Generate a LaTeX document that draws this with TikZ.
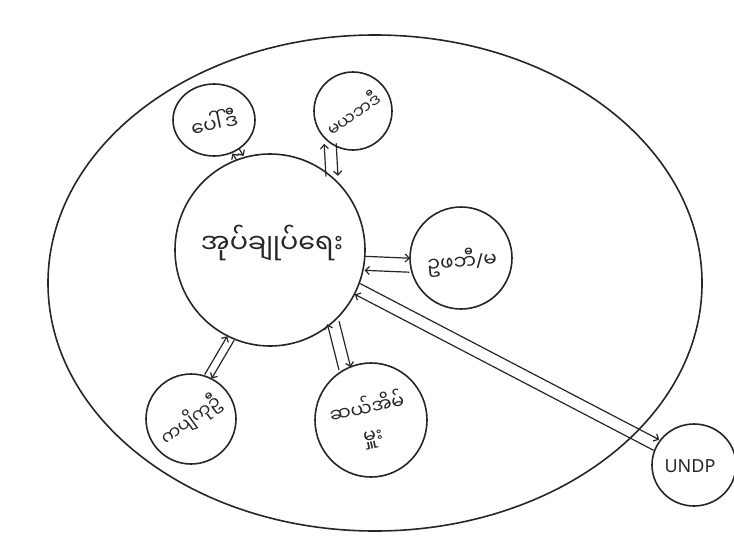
\documentclass[tikz,border=0pt]{standalone}
\usepackage{fontspec}
\setmainfont{Noto Sans}
\newfontfamily\mya[Script=Myanmar]{Noto Sans Myanmar UI}
\usetikzlibrary{arrows.meta,calc,shapes.geometric}
\newcommand\twoway[3]{%
  \path (#1) -- (#2) coordinate[pos=0] (tws) coordinate[pos=1] (twe);
  \draw[tip] ($(tws)!#3!90:(twe)$) -- ($(twe)!#3!-90:(tws)$);
  \draw[tip] ($(twe)!#3!90:(tws)$) -- ($(tws)!#3!-90:(twe)$);
}
\begin{document}
\begin{tikzpicture}[x=1pt,y=-1pt,
  ink/.style={draw=black!85,line width=1.6pt},
  bub/.style={ink,ellipse,inner sep=0pt},
  lbl/.style={font=\mya\fontsize{20}{22}\selectfont,text=black!85,align=center,inner sep=1pt},
  tip/.style={ink,line width=1.2pt,-{Straight Barb[length=4pt,width=8pt]}}]
\useasboundingbox (0,0) rectangle (734,538);
\fill[white] (0,0) rectangle (734,538);
% circles
\node[bub,minimum width=654pt,minimum height=496pt] (outer) at (375,283) {};
\node[bub,minimum width=190pt,minimum height=192pt] (core) at (270,250) {};
\node[bub,minimum width=82pt,minimum height=72pt] (tl) at (214,120) {};
\node[bub,minimum width=78pt,minimum height=78pt] (tr) at (353,111) {};
\node[bub,minimum width=102pt,minimum height=102pt] (rt) at (461,258) {};
\node[bub,minimum width=90pt,minimum height=90pt] (bl) at (191,419) {};
\node[bub,minimum width=112pt,minimum height=114pt] (bot) at (371,420) {};
\node[bub,minimum width=84pt,minimum height=82pt] (undp) at (694,465) {};
% labels
\node[lbl,font=\mya\fontsize{27}{30}\selectfont] (coret) at (272,243) {အုပ်ချုပ်ရေး};
\node[lbl,rotate=12] (tlt) at (214,122) {ပေါ်ဒီ};
\node[lbl,rotate=35,font=\mya\fontsize{17}{20}\selectfont] (trt) at (353,113) {မယဘဒီ};
\node[lbl,rotate=5] (rtt) at (462,262) {ဥဖဘီ{\rmfamily/}မ};
\node[lbl,rotate=36,font=\mya\fontsize{18}{20}\selectfont] (blt) at (191,420) {ကပျိကုဦ};
\node[lbl,rotate=12,font=\mya\fontsize{19}{28}\selectfont] (bott) at (370,422) {ဆယ်အိမ်\\မှူး};
\node[lbl,font=\fontsize{18}{20}\selectfont] (undpt) at (690,466) {UNDP};
% connectors
\twoway{tl.-55}{core.108}{4pt}
\twoway{tr.-125}{core.50}{6pt}
\twoway{core.-8}{rt.188}{7pt}
\twoway{core.-24}{undp.152}{6pt}
\twoway{core.-114}{bl.68}{4pt}
\twoway{core.-49}{bot.117}{6pt}
\end{tikzpicture}
\end{document}
